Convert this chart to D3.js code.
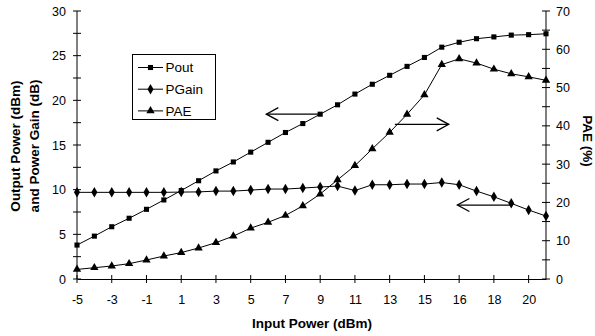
<!DOCTYPE html>
<html>
<head>
<meta charset="utf-8">
<script src="https://cdn.jsdelivr.net/npm/d3@7"></script>
<style>
  html, body { margin: 0; padding: 0; background: #fff; }
  svg { display: block; font-family: "Liberation Sans", Arial, sans-serif; }
</style>
</head>
<body>
<svg id="chart" width="595" height="336"></svg>
<script>
// ---- data ----
const categories = ["-5","-4","-3","-2","-1","0","1","2","3","4","5","6","7","8","9","10","11","12","13","14","15","15.5","16","17","18","19","20","21"];
const pout  = [3.8,4.8,5.85,6.8,7.8,8.85,9.9,11.0,12.1,13.1,14.2,15.3,16.4,17.4,18.45,19.5,20.7,21.8,22.8,23.8,24.8,25.95,26.5,26.9,27.1,27.3,27.35,27.45];
const pgain = [9.7,9.7,9.7,9.7,9.7,9.7,9.73,9.75,9.84,9.84,9.95,10.07,10.07,10.18,10.3,10.4,9.9,10.55,10.55,10.63,10.63,10.8,10.55,9.84,9.2,8.47,7.72,7.05];
const pae   = [2.5,2.95,3.4,4.0,4.96,6.0,6.9,8.1,9.5,11.2,13.3,14.8,16.6,19.1,22.2,25.9,29.6,34.0,38.3,43.0,48.1,56.0,57.5,56.4,54.8,53.6,52.8,51.9];
const xTickLabels = categories.filter((d, i) => i % 2 === 0);
const leftTicks = [0,5,10,15,20,25,30];
const rightTicks = [0,10,20,30,40,50,60,70];
const seriesNames = ["Pout","PGain","PAE"];
// annotation arrows: [fromIndex, toIndex, value, axis]
const arrows = [
  [14.0, 10.9, 18.45, "left"],
  [18.3, 21.4, 40.4, "right"],
  [25.0, 21.9, 8.28, "left"]
];

// ---- layout ----
const svg = d3.select("#chart");
const X0 = 77, X1 = 546, Y0 = 279, Y1 = 11;
const x = d3.scalePoint().domain(categories).range([X0, X1]);
const xi = d3.scaleLinear().domain([0, categories.length - 1]).range([X0, X1]);
const yL = d3.scaleLinear().domain([0, 30]).range([Y0, Y1]);
const yR = d3.scaleLinear().domain([0, 70]).range([Y0, Y1]);
const ink = "#000";
const tickFont = 12.5;

// axes
const xAxis = d3.axisBottom(x).tickValues(xTickLabels).tickSize(0).tickPadding(16);
const gx = svg.append("g").attr("transform", `translate(0,${Y0})`).call(xAxis);
gx.select(".domain").attr("stroke", ink);
gx.selectAll("text").attr("font-size", tickFont).attr("fill", ink).attr("font-family", "Liberation Sans, Arial, sans-serif");
// crossing ticks for x
svg.append("g").selectAll("line").data(xTickLabels).join("line")
  .attr("x1", d => x(d)).attr("x2", d => x(d))
  .attr("y1", Y0 - 4).attr("y2", Y0 + 4).attr("stroke", ink);

function yAxisDraw(scale, xpos, majors, minorStep, side) {
  const g = svg.append("g");
  g.append("line").attr("x1", xpos).attr("x2", xpos).attr("y1", scale.range()[0]).attr("y2", scale.range()[1]).attr("stroke", ink);
  const dmax = scale.domain()[1];
  const minors = d3.range(0, dmax + 0.001, minorStep);
  g.selectAll("line.t").data(minors).join("line").attr("class", "t")
    .attr("x1", xpos - 4).attr("x2", xpos + 4)
    .attr("y1", d => scale(d)).attr("y2", d => scale(d)).attr("stroke", ink);
  g.selectAll("text").data(majors).join("text")
    .attr("x", side === "left" ? xpos - 11 : xpos + 10)
    .attr("y", d => scale(d))
    .attr("dy", "0.36em")
    .attr("text-anchor", side === "left" ? "end" : "start")
    .attr("font-size", tickFont).attr("fill", ink)
    .text(d => d);
}
yAxisDraw(yL, X0, leftTicks, 2.5, "left");
yAxisDraw(yR, X1, rightTicks, 5, "right");

// axis titles
const titleFont = 13.5;
svg.append("text").attr("transform", "translate(20,146) rotate(-90)")
  .attr("text-anchor", "middle").attr("font-size", titleFont).attr("font-weight", "bold").text("Output Power (dBm)");
svg.append("text").attr("transform", "translate(39,146) rotate(-90)")
  .attr("text-anchor", "middle").attr("font-size", titleFont).attr("font-weight", "bold").text("and Power Gain (dB)");
svg.append("text").attr("transform", "translate(583,141) rotate(90)")
  .attr("text-anchor", "middle").attr("font-size", titleFont).attr("font-weight", "bold").text("PAE (%)");
svg.append("text").attr("x", 312).attr("y", 328)
  .attr("text-anchor", "middle").attr("font-size", titleFont).attr("font-weight", "bold").text("Input Power (dBm)");

// series
const symbols = [d3.symbolSquare, d3.symbolDiamond, d3.symbolTriangle];
const symSizes = [26, 32, 30];
const series = [
  { name: seriesNames[0], vals: pout, y: yL },
  { name: seriesNames[1], vals: pgain, y: yL },
  { name: seriesNames[2], vals: pae, y: yR }
];
series.forEach((s, si) => {
  const line = d3.line().x((d, i) => x(categories[i])).y(d => s.y(d));
  svg.append("path").datum(s.vals).attr("d", line)
    .attr("fill", "none").attr("stroke", ink).attr("stroke-width", 1);
  svg.append("g").selectAll("path").data(s.vals).join("path")
    .attr("d", d3.symbol().type(symbols[si]).size(symSizes[si]))
    .attr("transform", (d, i) => `translate(${x(categories[i])},${s.y(d)})`)
    .attr("fill", ink);
});

// arrows
arrows.forEach(([from, to, v, ax]) => {
  const sc = ax === "left" ? yL : yR;
  const xa = xi(from), xb = xi(to), yy = sc(v);
  const dir = xb > xa ? 1 : -1;
  svg.append("line").attr("x1", xa).attr("x2", xb).attr("y1", yy).attr("y2", yy)
    .attr("stroke", ink).attr("stroke-width", 1.3);
  svg.append("path")
    .attr("d", `M${xb - dir * 12},${yy - 6.5}L${xb},${yy}L${xb - dir * 12},${yy + 6.5}`)
    .attr("fill", "none").attr("stroke", ink).attr("stroke-width", 1.3);
});

// legend
const lg = svg.append("g");
lg.append("rect").attr("x", 132.5).attr("y", 54.5).attr("width", 83).attr("height", 65)
  .attr("fill", "#fff").attr("stroke", ink);
seriesNames.forEach((n, i) => {
  const yy = 67.5 + i * 21.7;
  lg.append("line").attr("x1", 138).attr("x2", 163).attr("y1", yy).attr("y2", yy).attr("stroke", ink);
  lg.append("path").attr("d", d3.symbol().type(symbols[i]).size(symSizes[i]))
    .attr("transform", `translate(150.5,${yy})`).attr("fill", ink);
  lg.append("text").attr("x", 165.5).attr("y", yy).attr("dy", "0.36em")
    .attr("font-size", 13.5).attr("fill", ink).text(n);
});
</script>
</body>
</html>
